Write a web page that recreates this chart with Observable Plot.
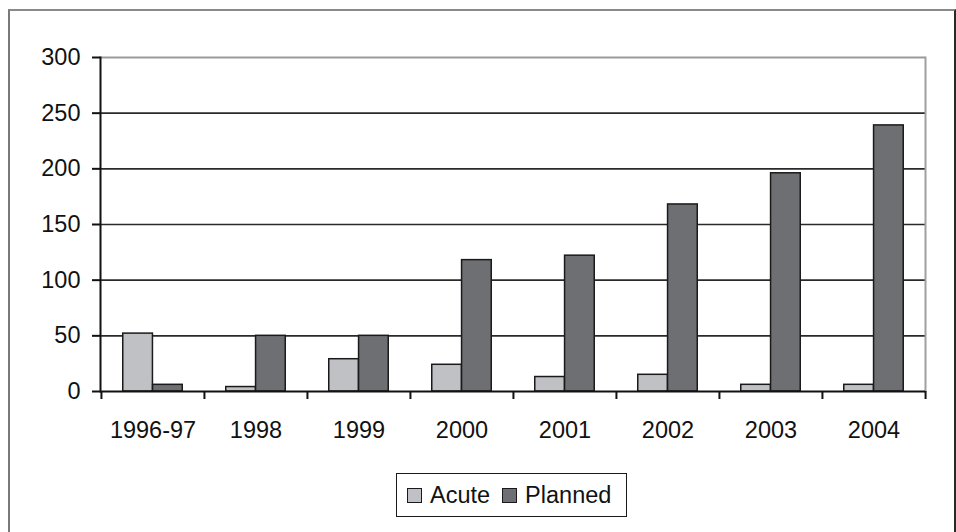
<!DOCTYPE html>
<html>
<head>
<meta charset="utf-8">
<script src="https://cdn.jsdelivr.net/npm/d3@7"></script>
<script src="https://cdn.jsdelivr.net/npm/@observablehq/plot@0.6"></script>
<style>
  html, body { margin: 0; padding: 0; background: #fff; }
  body { width: 956px; height: 532px; position: relative; overflow: hidden; font-family: "Liberation Sans", Arial, sans-serif; }
  #frame { position: absolute; left: 8px; top: 9px; width: 944px; height: 540px; border-left: 2px solid #7a7a7a; border-top: 2px solid #8a8a8a; border-right: 2px solid #2a2a2a; }
  #chart { position: absolute; left: 0; top: 0; }
  #legend { position: absolute; left: 396px; top: 473px; width: 229px; height: 42px; border: 1.5px solid #1a1a1a; display: flex; align-items: center; font-size: 23.5px; color: #111; }
  .item { display: flex; align-items: center; margin-left: 10px; }
  .item + .item { margin-left: 12px; }
  .sw { width: 13px; height: 13px; border: 1.2px solid #1a1a1a; margin-right: 8px; }
</style>
</head>
<body>
<div id="frame"></div>
<div id="chart"></div>
<div id="legend"></div>
<script>
const years = ["1996-97", "1998", "1999", "2000", "2001", "2002", "2003", "2004"];
const acute = [52, 4, 29, 24, 13, 15, 6, 6];
const planned = [6, 50, 50, 118, 122, 168, 196, 239];
const seriesNames = ["Acute", "Planned"];
const seriesColors = ["#c0c1c5", "#6e6f73"];
const yTicks = [0, 50, 100, 150, 200, 250, 300];

const data = [];
years.forEach((y, i) => {
  data.push({year: y, series: "Acute", value: acute[i]});
  data.push({year: y, series: "Planned", value: planned[i]});
});

const W = 956, H = 460, ML = 100, MR = 31, MT = 57, MB = H - 391;
const step = (W - ML - MR) / years.length;
const barW = step * 0.289;
const outer = (step - 2 * barW) / 2;

const font = "Liberation Sans, Arial, sans-serif";

const plot = Plot.plot({
  width: W,
  height: H,
  marginLeft: ML,
  marginRight: MR,
  marginTop: MT,
  marginBottom: MB,
  style: {fontFamily: font, fontSize: "23.5px", color: "#111", background: "transparent"},
  x: {domain: years, padding: 0, label: null},
  y: {domain: [0, 300], label: null},
  color: {domain: seriesNames, range: seriesColors},
  marks: [
    Plot.ruleY(yTicks.filter(t => t > 0 && t < 300), {stroke: "#2a2a2a", strokeWidth: 1.6}),
    Plot.ruleY([300], {stroke: "#9a9a9a", strokeWidth: 2}),
    Plot.frame({anchor: "right", stroke: "#a0a0a0", strokeWidth: 2}),
    Plot.barY(data.filter(d => d.series === "Acute"), {
      x: "year", y: "value", fill: "series", stroke: "#1a1a1a", strokeWidth: 1.5,
      insetLeft: outer, insetRight: step - outer - barW
    }),
    Plot.barY(data.filter(d => d.series === "Planned"), {
      x: "year", y: "value", fill: "series", stroke: "#1a1a1a", strokeWidth: 1.5,
      insetLeft: outer + barW, insetRight: outer
    }),
    Plot.ruleY([0], {stroke: "#111", strokeWidth: 2}),
    Plot.ruleX(years, {x: d => d, y1: 0, y2: 0, insetBottom: -8, dx: -step / 2, stroke: "#111", strokeWidth: 2}),
    Plot.ruleX(years.slice(-1), {x: d => d, y1: 0, y2: 0, insetBottom: -8, dx: step / 2, stroke: "#111", strokeWidth: 2}),
    Plot.frame({anchor: "left", stroke: "#111", strokeWidth: 2}),
    Plot.axisY({ticks: yTicks, tickSize: 8, tickPadding: 12, stroke: "#111", strokeWidth: 2, label: null, fill: "#111"}),
    Plot.axisX({tickSize: 0, tickPadding: 30, label: null, fill: "#111"})
  ]
});
document.getElementById("chart").appendChild(plot);

const legend = document.getElementById("legend");
seriesNames.forEach((name, i) => {
  const item = document.createElement("div");
  item.className = "item";
  const sw = document.createElement("div");
  sw.className = "sw";
  sw.style.background = seriesColors[i];
  const label = document.createElement("span");
  label.textContent = name;
  item.appendChild(sw);
  item.appendChild(label);
  legend.appendChild(item);
});
</script>
</body>
</html>
